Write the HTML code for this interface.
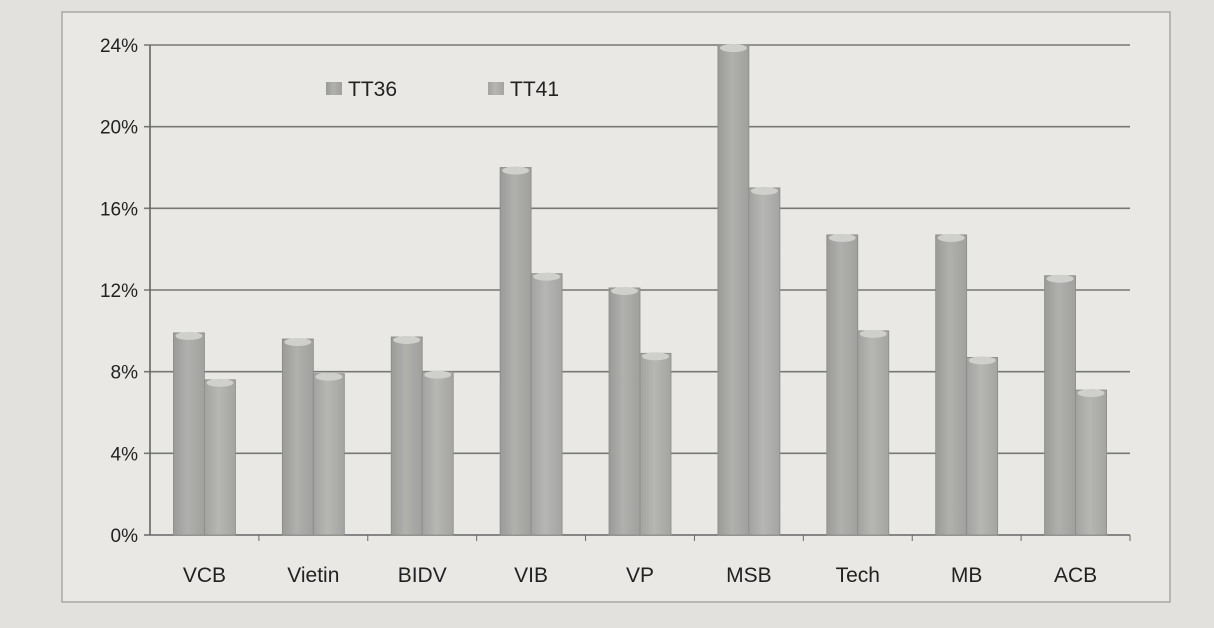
<!DOCTYPE html>
<html><head><meta charset="utf-8"><style>
body{margin:0;background:#e4e3df;font-family:"Liberation Sans",sans-serif}
svg{display:block}
</style></head><body>
<svg id="c" width="1214" height="628" xmlns="http://www.w3.org/2000/svg">
<defs>
<linearGradient id="g1" x1="0" x2="1" y1="0" y2="0"><stop offset="0" stop-color="#9a9a98"/><stop offset="0.45" stop-color="#b0b0ad"/><stop offset="1" stop-color="#a0a09e"/></linearGradient>
<linearGradient id="g2" x1="0" x2="1" y1="0" y2="0"><stop offset="0" stop-color="#a2a2a0"/><stop offset="0.45" stop-color="#b6b6b3"/><stop offset="1" stop-color="#a4a4a2"/></linearGradient>
</defs>
<rect x="0" y="0" width="1214" height="628" fill="#e2e1dd"/>
<rect x="62" y="12" width="1108" height="590" fill="#e9e8e4" stroke="#a8a7a3" stroke-width="1.5"/>
<g id="grid"></g><g id="bars"></g><g id="labels"></g>
<g>
<rect x="326" y="82" width="16" height="13" fill="url(#g1)"/>
<text x="348" y="96" font-size="21" fill="#222">TT36</text>
<rect x="488" y="82" width="16" height="13" fill="url(#g2)"/>
<text x="510" y="96" font-size="21" fill="#222">TT41</text>
</g>
</svg>
<script>
const categories=["VCB","Vietin","BIDV","VIB","VP","MSB","Tech","MB","ACB"];
const tt36=[9.9,9.6,9.7,18.0,12.1,24.0,14.7,14.7,12.7];
const tt41=[7.6,7.9,8.0,12.8,8.9,17.0,10.0,8.7,7.1];
const ticks=[0,4,8,12,16,20,24];
const NS="http://www.w3.org/2000/svg";
const X0=150,X1=1130,Y0=535,Y1=45,MAX=24;
const y=v=>Y0-(Math.min(v,MAX)/MAX)*(Y0-Y1);
const bw=(X1-X0)/categories.length;
const xc=i=>X0+bw*(i+0.5);
function mk(t,a,p){const e=document.createElementNS(NS,t);for(const k in a)e.setAttribute(k,a[k]);p.appendChild(e);return e;}
const grid=document.getElementById('grid'),bars=document.getElementById('bars'),lab=document.getElementById('labels');
ticks.forEach(t=>{
 const l=mk('line',{x1:X0-6,x2:X1,y1:y(t),y2:y(t),stroke:t===0?'#666':'#777775','stroke-width':1.6},grid);
 
 
 const tx=mk('text',{x:X0-12,y:y(t)+7,'text-anchor':'end','font-size':19,fill:'#222'},lab);
 tx.textContent=t+'%';
 
 
});
const ax=mk('line',{x1:X0,x2:X0,y1:Y1,y2:Y0,stroke:'#666','stroke-width':1.6},grid);


categories.forEach((c,i)=>{
 const w=31;
 [[tt36[i],xc(i)-w,'url(#g1)','tt36'],[tt41[i],xc(i),'url(#g2)','tt41']].forEach(([v,x,f,s])=>{
  const r=mk('rect',{x:x,y:y(v),width:w,height:Y0-y(v),fill:f,stroke:'#8a8a88','stroke-width':0.8},bars);
  
  
  mk('ellipse',{cx:x+w/2,cy:y(v)+3,rx:w/2-2,ry:4,fill:'#cfcfcc'},bars);
 });
 const tk=mk('line',{x1:X0+bw*(i+1),x2:X0+bw*(i+1),y1:Y0,y2:Y0+6,stroke:'#666'},grid);
 const t=mk('text',{x:xc(i),y:582,'text-anchor':'middle','font-size':21,fill:'#222'},lab);
 t.textContent=c;
 
 
});
</script>
</body></html>
